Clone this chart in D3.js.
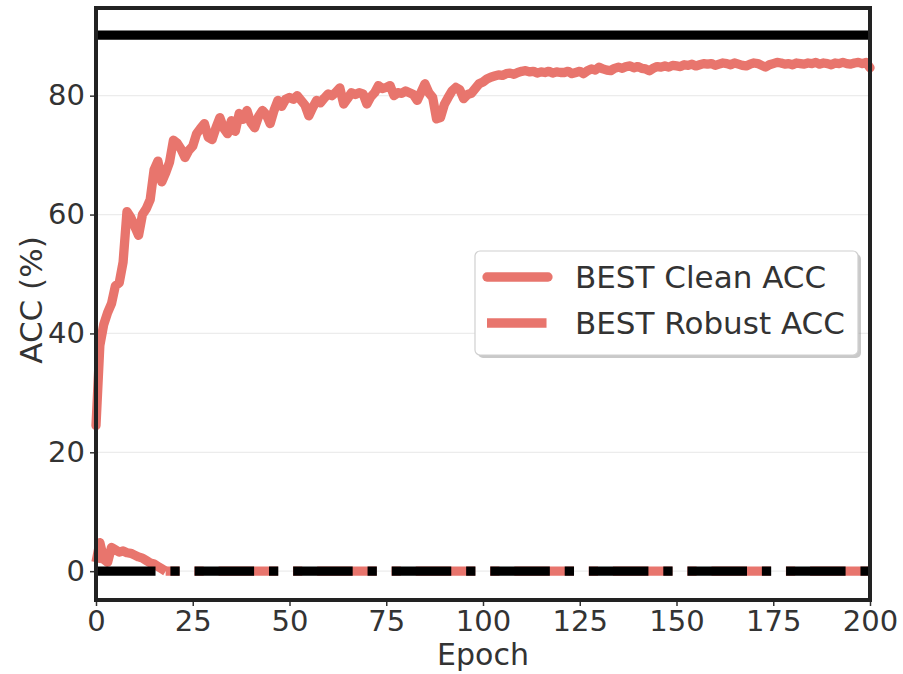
<!DOCTYPE html>
<html>
<head>
<meta charset="utf-8">
<script src="https://cdn.jsdelivr.net/npm/d3@7"></script>
<style>
  body { margin: 0; background: #fff; }
  text { font-family: "DejaVu Sans", sans-serif; fill: #333; }
</style>
</head>
<body>
<div id="vis"></div>
<script>
// Data
const cleanAcc = [
  24.5, 38, 41.5, 43.5, 45, 48, 48.5, 52, 60.5, 59.5,
  58, 56.5, 60, 61, 62.5, 67.5, 69, 65.5, 67, 68.8,
  72.5, 72, 71, 69.6, 70.8, 71.5, 73.6, 74.5, 75.3, 73,
  72.6, 74.6, 76.3, 74.5, 73.6, 75.8, 74, 77, 76, 77.5,
  75.5, 74.6, 76.5, 77.5, 76.8, 75.3, 77.5, 79.2, 78.2, 79.4,
  79.7, 79.4, 80, 79.2, 78.4, 76.6, 78, 79.2, 78.8, 79.6,
  80.3, 80, 80.6, 81.3, 78.6, 79.5, 80.5, 80.2, 80.5, 80.3,
  78.6, 79.8, 80.5, 81.7, 81.2, 81.4, 81.7, 80, 80.5, 80.4,
  80.8, 80.5, 80.2, 79.2, 80.6, 82, 80.5, 79.7, 76.1, 76.3,
  78.5, 79.7, 80.8, 81.4, 81, 79.5, 80.2, 80.4, 81.2, 82,
  82.3, 82.8, 83.1, 83.3, 83.5, 83.4, 83.7, 83.8, 83.6, 83.9,
  84.1, 84.2, 84, 84.1, 83.8, 84, 83.9, 84.1, 83.8, 84,
  83.9, 83.9, 84.1, 83.7, 83.9, 84.1, 83.7, 84.2, 84.5, 84.3,
  84.8, 84.5, 84.3, 84.2, 84.6, 84.8, 84.6, 84.9, 85, 84.7,
  84.9, 84.6, 84.5, 84.2, 84.6, 84.9, 84.8, 85, 84.8, 85.1,
  85, 84.9, 85.2, 85.1, 85.3, 85, 85.2, 85.4, 85.3, 85.4,
  85.1, 85.3, 85.5, 85.4, 85.2, 85.5, 85.3, 85.1, 85, 85.3,
  85.5, 85.4, 85.1, 84.8, 85.2, 85.4, 85.6, 85.5, 85.3, 85.4,
  85.2, 85.5, 85.4, 85.3, 85.5, 85.4, 85.6, 85.3, 85.5, 85.4,
  85.2, 85.5, 85.4, 85.6, 85.4, 85.3, 85.5, 85.6, 85.4, 85.6,
  84.7
];

const robustAcc = [
  1.5, 4.8, 2, 1.5, 4, 3.6, 3.2, 3.4, 3.1, 3,
  2.7, 2.4, 2.2, 1.8, 1.4, 1.2, 0.8, 0.4, 0, 0,
  0, 0, 0, 0, 0, 0, 0, 0, 0, 0,
  0, 0, 0, 0, 0, 0, 0, 0, 0, 0,
  0, 0, 0, 0, 0, 0, 0, 0, 0, 0,
  0, 0, 0, 0, 0, 0, 0, 0, 0, 0,
  0, 0, 0, 0, 0, 0, 0, 0, 0, 0,
  0, 0, 0, 0, 0, 0, 0, 0, 0, 0,
  0, 0, 0, 0, 0, 0, 0, 0, 0, 0,
  0, 0, 0, 0, 0, 0, 0, 0, 0, 0,
  0, 0, 0, 0, 0, 0, 0, 0, 0, 0,
  0, 0, 0, 0, 0, 0, 0, 0, 0, 0,
  0, 0, 0, 0, 0, 0, 0, 0, 0, 0,
  0, 0, 0, 0, 0, 0, 0, 0, 0, 0,
  0, 0, 0, 0, 0, 0, 0, 0, 0, 0,
  0, 0, 0, 0, 0, 0, 0, 0, 0, 0,
  0, 0, 0, 0, 0, 0, 0, 0, 0, 0,
  0, 0, 0, 0, 0, 0, 0, 0, 0, 0,
  0, 0, 0, 0, 0, 0, 0, 0, 0, 0,
  0, 0, 0, 0, 0, 0, 0, 0, 0, 0,
  0
];

const bestLines = [90.2, 0];          // black reference lines (solid top, dash-dot bottom)
const xTicks = [0, 25, 50, 75, 100, 125, 150, 175, 200];
const yTicks = [0, 20, 40, 60, 80];
const seriesNames = ["BEST Clean ACC", "BEST Robust ACC"];

// Layout
const width = 903, height = 674;
const mLeft = 96, mRight = 870, mTop = 8, mBottom = 600;
const red = "#e8756d";
const lw = 9.3;
const dashDot = [6.4 * lw, 1.6 * lw, 1 * lw, 1.6 * lw];
const period = d3.sum(dashDot);

const svg = d3.select("#vis").append("svg")
    .attr("width", width)
    .attr("height", height);

const x = d3.scaleLinear().domain([0, 200]).range([mLeft, mRight]);
const y = d3.scaleLinear().domain([-4.85, 94.75]).range([mBottom, mTop]);

// grid
svg.append("g")
    .selectAll("line")
    .data(yTicks)
    .enter().append("line")
    .attr("x1", mLeft).attr("x2", mRight)
    .attr("y1", d => y(d)).attr("y2", d => y(d))
    .attr("stroke", "#ececec")
    .attr("stroke-width", 1.2);

const plot = svg.append("g");

const line = d3.line()
    .x((d, i) => x(i))
    .y(d => y(d));

// robust acc: wiggly start, then flat part with dash-dot pattern
const flatStart = robustAcc.findIndex((v, i) => i > 0 && v === 0);
const early = robustAcc.slice(0, flatStart + 1);
plot.append("path")
    .attr("d", line(early))
    .attr("fill", "none")
    .attr("stroke", red)
    .attr("stroke-width", lw)
    .attr("stroke-linejoin", "round");

const flatLine = d3.line()
    .x((d, i) => x(i + flatStart))
    .y(d => y(d));
const phase = ((x(flatStart) - (x(0) + 24)) % period + period) % period;
plot.append("path")
    .attr("d", flatLine(robustAcc.slice(flatStart)))
    .attr("fill", "none")
    .attr("stroke", red)
    .attr("stroke-width", lw)
    .attr("stroke-dasharray", dashDot.join(","))
    .attr("stroke-dashoffset", phase);

// clean acc
plot.append("path")
    .attr("d", line(cleanAcc))
    .attr("fill", "none")
    .attr("stroke", red)
    .attr("stroke-width", lw)
    .attr("stroke-linejoin", "round")
    .attr("stroke-linecap", "round");

// black lines
plot.selectAll("line.best")
    .data(bestLines)
    .enter().append("line")
    .attr("class", "best")
    .attr("x1", x(0)).attr("x2", x(200))
    .attr("y1", d => y(d)).attr("y2", d => y(d))
    .attr("stroke", "#000")
    .attr("stroke-width", lw)
    .attr("stroke-dasharray", (d, i) => i === 0 ? null : dashDot.join(","));

// axes
const xAxis = d3.axisBottom(x).tickValues(xTicks).tickSize(6).tickPadding(5);
const yAxis = d3.axisLeft(y).tickValues(yTicks).tickSize(6).tickPadding(5);

const gx = svg.append("g")
    .attr("transform", "translate(0," + mBottom + ")")
    .call(xAxis);
const gy = svg.append("g")
    .attr("transform", "translate(" + mLeft + ",0)")
    .call(yAxis);

[gx, gy].forEach(g => {
    g.select(".domain").remove();
    g.selectAll(".tick line").attr("stroke", "#333").attr("stroke-width", 1.5);
    g.selectAll(".tick text")
        .style("font-size", "29px")
        .style("fill", "#333");
});
gx.selectAll(".tick text").attr("dy", "0.68em");

// frame
svg.append("rect")
    .attr("x", mLeft).attr("y", mTop)
    .attr("width", mRight - mLeft).attr("height", mBottom - mTop)
    .attr("fill", "none")
    .attr("stroke", "#222")
    .attr("stroke-width", 4);

// axis labels
svg.append("text")
    .attr("x", (mLeft + mRight) / 2)
    .attr("y", 665)
    .attr("text-anchor", "middle")
    .style("font-size", "30px")
    .text("Epoch");

svg.append("text")
    .attr("transform", "translate(42," + ((mTop + mBottom) / 2 - 4) + ")rotate(-90)")
    .attr("text-anchor", "middle")
    .style("font-size", "31px")
    .text("ACC (%)");

// legend
const legend = svg.append("g").attr("transform", "translate(475,251)");
const lgW = 383, lgH = 104;
legend.append("rect")
    .attr("x", 3).attr("y", 3)
    .attr("width", lgW).attr("height", lgH)
    .attr("rx", 5)
    .attr("fill", "#888")
    .attr("opacity", 0.45);
legend.append("rect")
    .attr("width", lgW).attr("height", lgH)
    .attr("rx", 5)
    .attr("fill", "#fff")
    .attr("stroke", "#d0d0d0")
    .attr("stroke-width", 1.2);

const items = legend.selectAll("g.item")
    .data(seriesNames)
    .enter().append("g")
    .attr("class", "item")
    .attr("transform", (d, i) => "translate(0," + (26 + i * 46) + ")");

items.append("line")
    .attr("x1", 12).attr("x2", 73)
    .attr("stroke", red)
    .attr("stroke-width", lw)
    .attr("stroke-linecap", (d, i) => i === 0 ? "round" : "butt")
    .attr("stroke-dasharray", (d, i) => i === 0 ? null : dashDot.join(","));

items.append("text")
    .attr("x", 100)
    .attr("dy", "0.36em")
    .style("font-size", "31px")
    .text(d => d);
</script>
</body>
</html>
